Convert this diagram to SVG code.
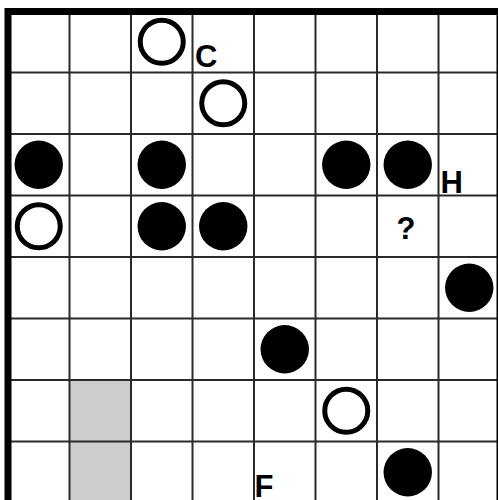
<svg xmlns="http://www.w3.org/2000/svg" width="498" height="500" viewBox="0 0 498 500">
  <style>
    .grid { stroke: #2a2a2a; stroke-width: 2; fill: none; }
    .border { stroke: #000; stroke-width: 7; fill: none; }
    .shade { fill: #cccccc; }
    .black { fill: #000; }
    .white { fill: #fff; stroke: #000; stroke-width: 5; }
    .lbl { font-family: "Liberation Sans", Arial, sans-serif; font-weight: bold; font-size: 31px; fill: #000; }
  </style>
  <rect x="0" y="0" width="498" height="500" fill="#fff"/>
  <g id="shaded">
    <rect class="shade" x="69.5" y="380" width="61.5" height="123"/>
  </g>
  <g id="grid">
    <path class="grid" d="M69.5 11V503M131 11V503M192.5 11V503M254 11V503M315.5 11V503M377 11V503M438.5 11V503M8 72.5H500M8 134H500M8 195.5H500M8 257H500M8 318.5H500M8 380H500M8 441.5H500"/>
    <rect class="border" x="8" y="11.5" width="492" height="492"/>
  </g>
  <g id="stones">
    <g id="w-r0c2"><circle class="white" cx="161.75" cy="41.75" r="21.5"/></g>
    <g id="w-r1c3"><circle class="white" cx="223.25" cy="103.25" r="21.5"/></g>
    <g id="b-r2c0"><circle class="black" cx="38.75" cy="164.75" r="24.2"/></g>
    <g id="b-r2c2"><circle class="black" cx="161.75" cy="164.75" r="24.2"/></g>
    <g id="b-r2c5"><circle class="black" cx="346.25" cy="164.75" r="24.2"/></g>
    <g id="b-r2c6"><circle class="black" cx="407.75" cy="164.75" r="24.2"/></g>
    <g id="w-r3c0"><circle class="white" cx="38.75" cy="226.25" r="21.5"/></g>
    <g id="b-r3c2"><circle class="black" cx="161.75" cy="226.25" r="24.2"/></g>
    <g id="b-r3c3"><circle class="black" cx="223.25" cy="226.25" r="24.2"/></g>
    <g id="b-r4c7"><circle class="black" cx="469.25" cy="287.75" r="24.2"/></g>
    <g id="b-r5c4"><circle class="black" cx="284.75" cy="349.25" r="24.2"/></g>
    <g id="w-r6c5"><circle class="white" cx="346.25" cy="410.75" r="21.5"/></g>
    <g id="b-r7c6"><circle class="black" cx="407.75" cy="472.25" r="24.2"/></g>
  </g>
  <g id="labels">
    <g id="lbl-C"><text class="lbl" x="195" y="67">C</text></g>
    <g id="lbl-H"><text class="lbl" x="440.5" y="193">H</text></g>
    <g id="lbl-q"><text class="lbl" x="396.5" y="239">?</text></g>
    <g id="lbl-F"><text class="lbl" x="254.5" y="496.5">F</text></g>
  </g>
</svg>
